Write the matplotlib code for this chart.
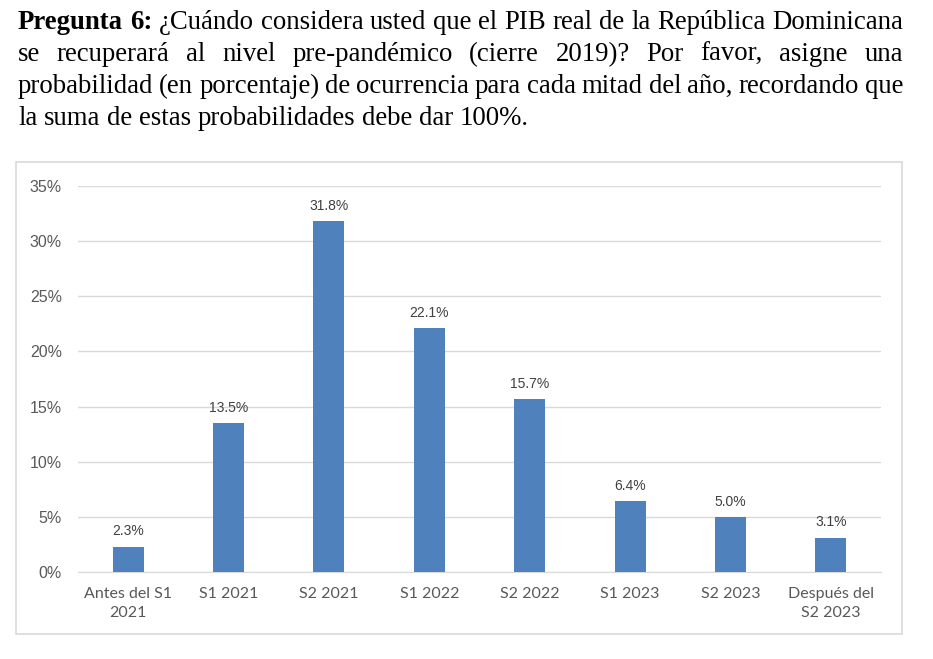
import matplotlib.pyplot as plt
from matplotlib.patches import Rectangle

categories = ["Antes del S1\n2021", "S1 2021", "S2 2021", "S1 2022", "S2 2022",
              "S1 2023", "S2 2023", "Después del\nS2 2023"]
values = [2.3, 13.5, 31.8, 22.1, 15.7, 6.4, 5.0, 3.1]
yticks = [0, 5, 10, 15, 20, 25, 30, 35]

title_lines = [
    [("Pregunta", True), ("6:", True), ("¿Cuándo", False), ("considera", False), ("usted", False),
     ("que", False), ("el", False), ("PIB", False), ("real", False), ("de", False), ("la", False),
     ("República", False), ("Dominicana", False)],
    [(w, False) for w in "se recuperará al nivel pre-pandémico (cierre 2019)? Por favor, asigne una".split()],
    [(w, False) for w in "probabilidad (en porcentaje) de ocurrencia para cada mitad del año, recordando que".split()],
    [(w, False) for w in "la suma de estas probabilidades debe dar 100%.".split()],
]

W, H = 933, 659
fig = plt.figure(figsize=(W / 100, H / 100), dpi=100)
renderer = fig.canvas.get_renderer()

# justified serif heading
x_left, x_right = 18, 903
baselines = [29, 61, 93, 125]
fs = 19.3
for i, line in enumerate(title_lines):
    y = 1 - baselines[i] / H
    texts = []
    for word, bold in line:
        t = fig.text(0, y, word, fontsize=fs, family="Liberation Serif",
                     fontweight="bold" if bold else "normal", va="baseline", ha="left")
        texts.append(t)
    widths = [t.get_window_extent(renderer).width for t in texts]
    if i < len(title_lines) - 1:
        gap = (x_right - x_left - sum(widths)) / (len(texts) - 1)
    else:
        gap = fs * 0.25 * 100 / 72
    x = x_left
    for t, w in zip(texts, widths):
        t.set_x(x / W)
        x += w + gap

# chart frame
fig.patches.append(Rectangle((16 / W, 1 - 634 / H), 886 / W, 472 / H,
                             transform=fig.transFigure, facecolor="white",
                             edgecolor="#D9D9D9", linewidth=1.2, zorder=0))

ax = fig.add_axes([78 / W, 87 / H, 803 / W, 386 / H])
ax.set_zorder(2)
ax.set_facecolor("none")
pos = range(len(categories))
bars = ax.bar(pos, values, width=0.31, color="#4F81BD", zorder=3)
ax.set_xlim(-0.5, len(categories) - 0.5)
ax.set_ylim(0, 35)
ax.set_yticks(yticks)
ax.set_yticklabels([f"{v}%" for v in yticks], fontsize=11.5, color="#595959",
                   family="Liberation Sans")
ax.set_xticks(list(pos))
ax.set_xticklabels(categories, fontsize=11.5, color="#595959", family="Lato",
                   linespacing=1.45)
ax.tick_params(length=0, axis="y", pad=11.5)
ax.tick_params(length=0, axis="x", pad=11)
ax.grid(axis="y", color="#D9D9D9", linewidth=1, zorder=0)
for s in ax.spines.values():
    s.set_visible(False)
ax.spines["bottom"].set_visible(True)
ax.spines["bottom"].set_color("#D9D9D9")

for b, v in zip(bars, values):
    ax.annotate(f"{v:.1f}%", (b.get_x() + b.get_width() / 2, v), xytext=(0, 6),
                textcoords="offset points", ha="center", va="bottom",
                fontsize=10, color="#404040", family="Liberation Sans")

fig.savefig("out.png", dpi=100)
